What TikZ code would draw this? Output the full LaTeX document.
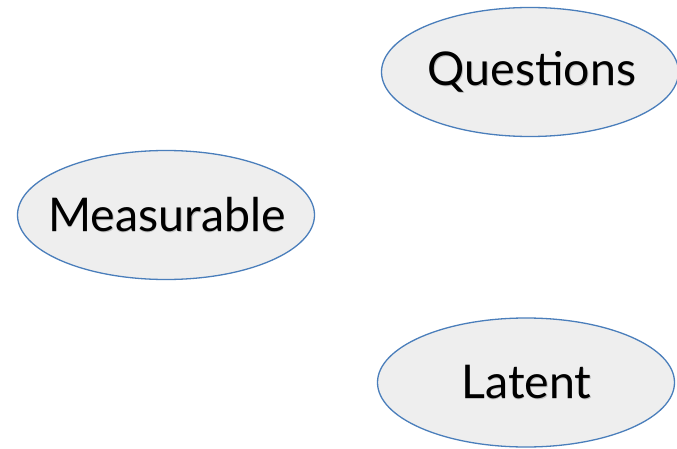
\documentclass[tikz,border=0pt]{standalone}
\usepackage{fontspec}
\setmainfont{Lato}
\usetikzlibrary{shapes.geometric}
\definecolor{edgeblue}{HTML}{4A7EBB}
\definecolor{fillgray}{HTML}{EEEEEE}
\tikzset{
  oval/.style={ellipse, draw=edgeblue, fill=fillgray, line width=1.3pt,
    minimum width=297pt, minimum height=129pt, inner sep=0pt},
  lbl/.style={font=\fontsize{46.5}{50}\selectfont, text=black, inner sep=0pt},
  shd/.style={font=\fontsize{46.5}{50}\selectfont, text=black!25, inner sep=0pt}
}
\begin{document}
\begin{tikzpicture}[x=1pt,y=1pt]
\useasboundingbox (0,0) rectangle (677,448);
\node[oval] (q) at (530,376) {};
\node[oval] (m) at (166,233) {};
\node[oval] (l) at (526,65.5) {};
\node[shd] (qs) at ([shift={(2.5,-1)}]q.center) {Questions};
\node[lbl] (qt) at ([shift={(2,0)}]q.center) {Questions};
\node[shd] (ms) at ([shift={(1.5,-1)}]m.center) {Measurable};
\node[lbl] (mt) at ([shift={(1,0)}]m.center) {Measurable};
\node[shd] (ls) at ([shift={(1,-1)}]l.center) {Latent};
\node[lbl] (lt) at ([shift={(0.5,0)}]l.center) {Latent};
\end{tikzpicture}
\end{document}
